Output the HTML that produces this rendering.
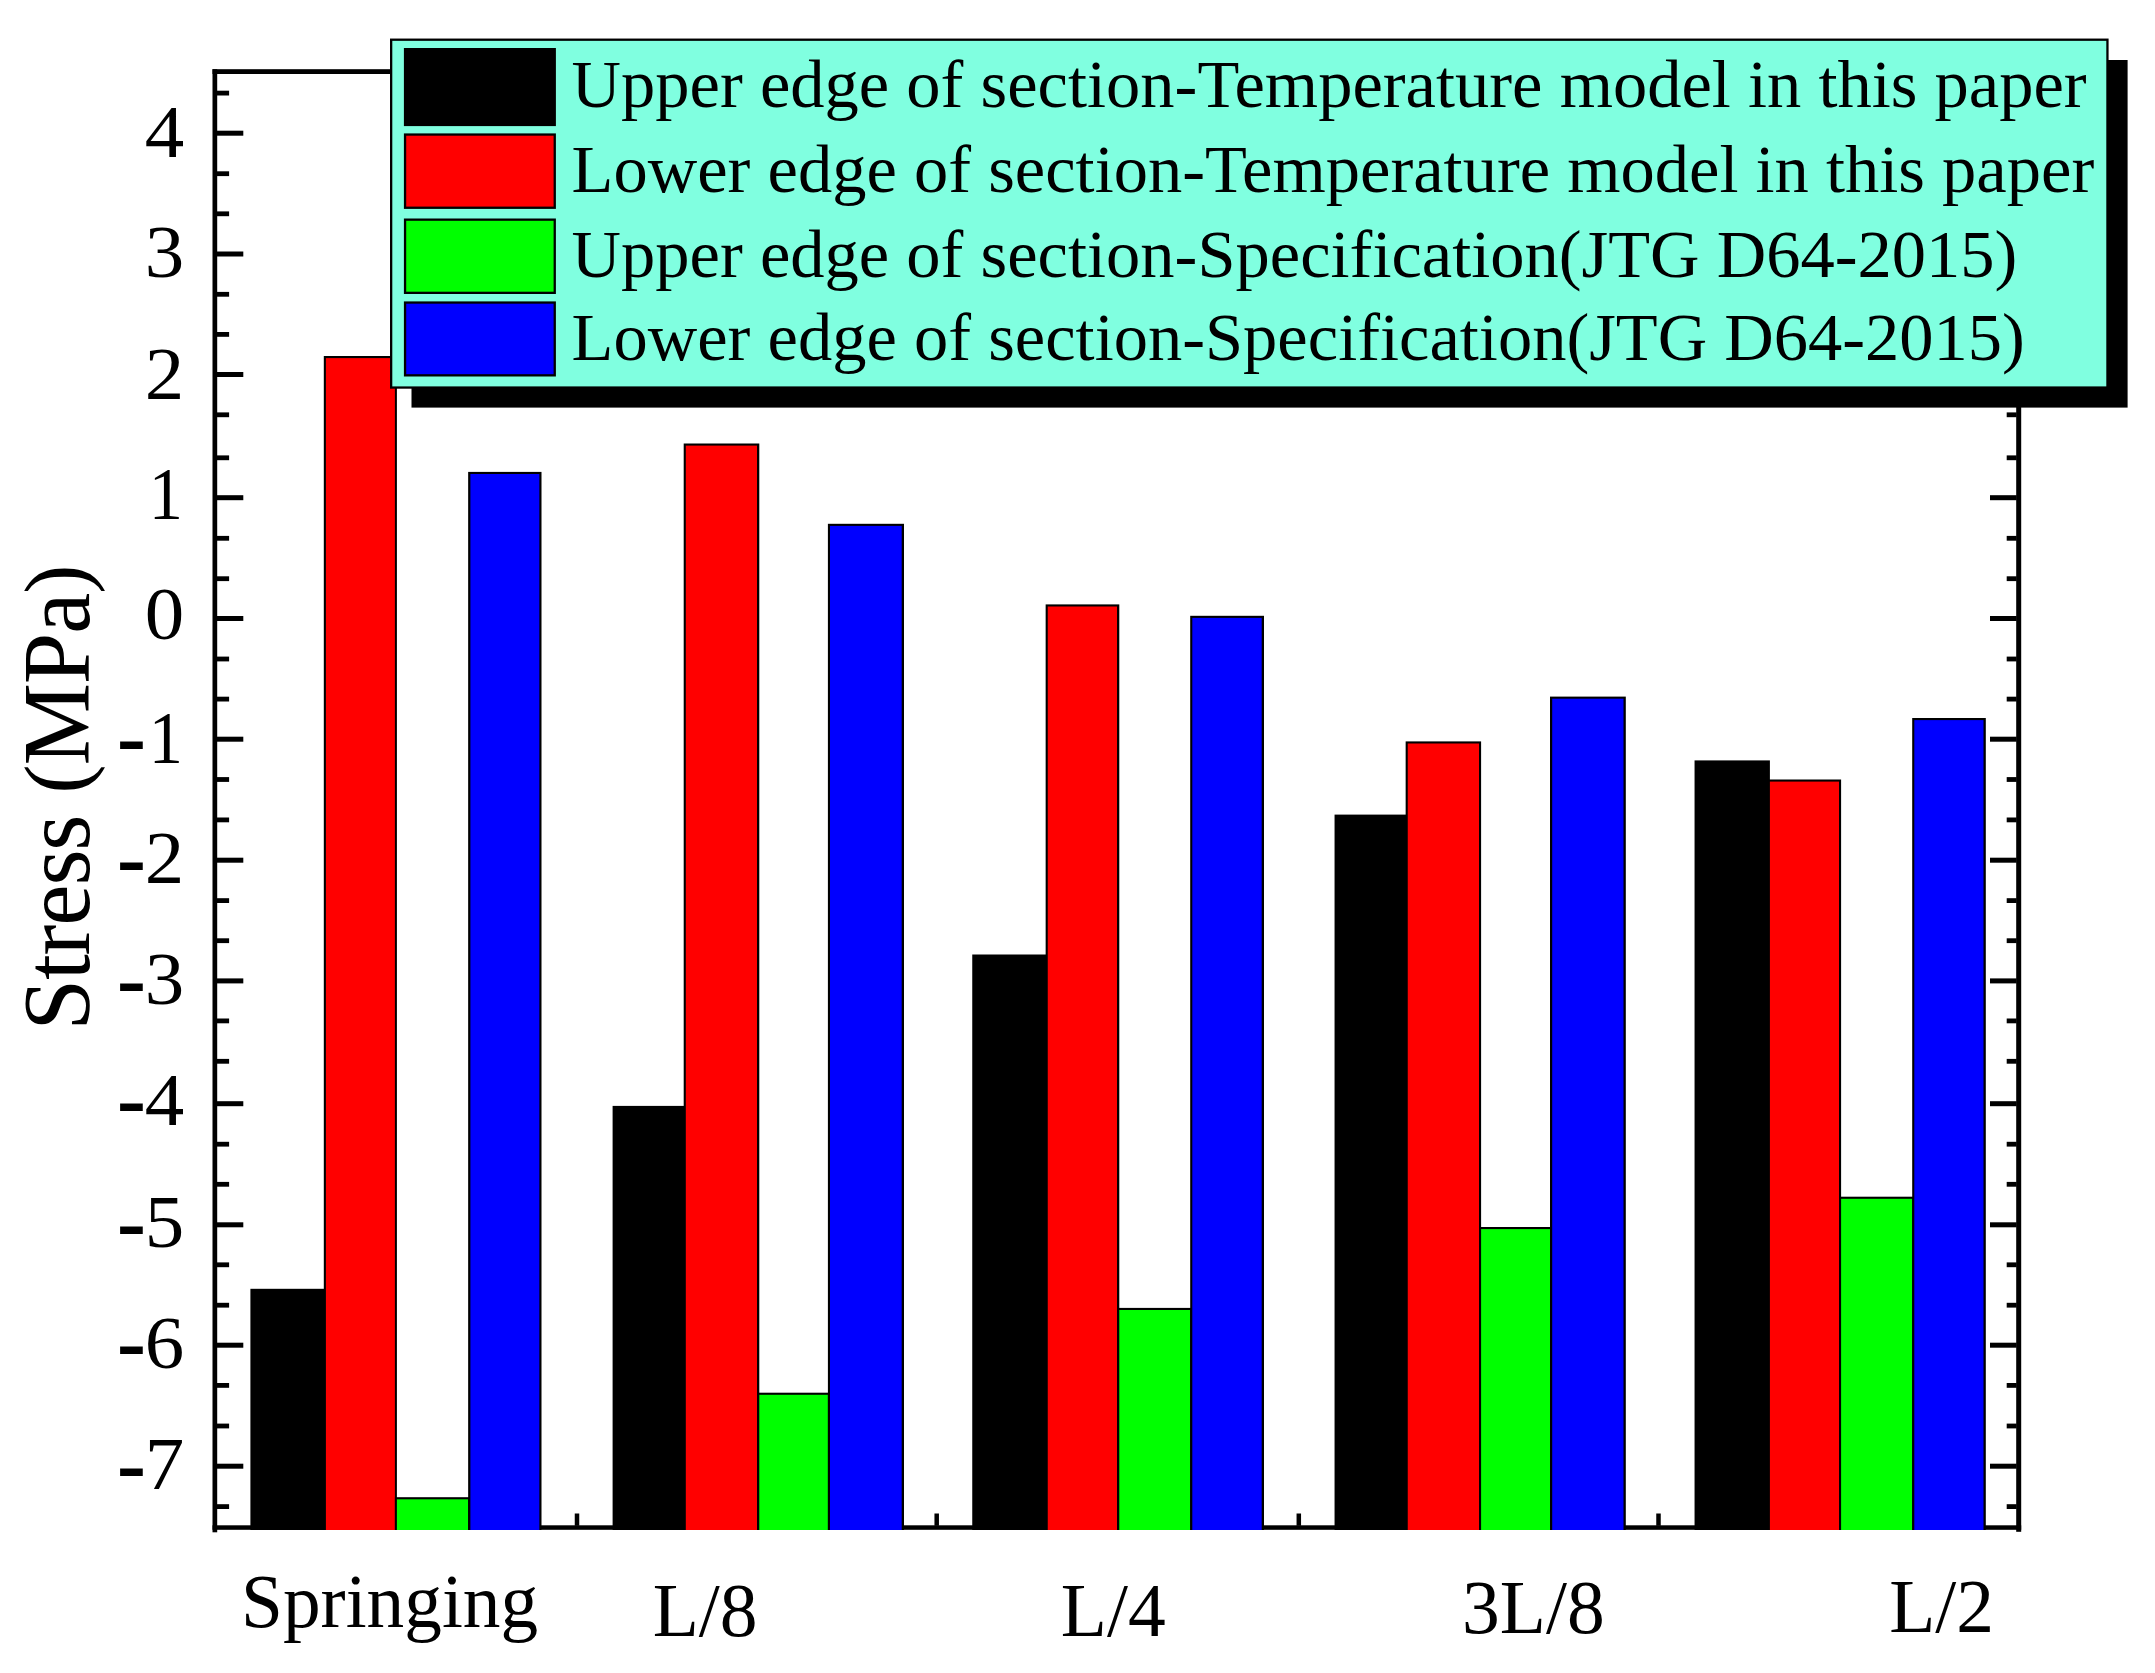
<!DOCTYPE html>
<html lang="en"><head><meta charset="utf-8"><title>Stress chart</title>
<style>html,body{margin:0;padding:0;background:#fff;}body{width:2155px;height:1673px;overflow:hidden;}svg{display:block;}text{font-family:"Liberation Serif","Times New Roman",serif;fill:#000;}</style>
</head><body>
<svg width="2155" height="1673" viewBox="0 0 2155 1673">
<rect x="0" y="0" width="2155" height="1673" fill="#fff"/>
<rect x="212.50" y="69.20" width="4.70" height="1463.10" fill="#000"/>
<rect x="2016.20" y="69.20" width="5.00" height="1462.60" fill="#000"/>
<rect x="212.50" y="69.20" width="1808.70" height="4.80" fill="#000"/>
<rect x="212.50" y="1525.30" width="1808.70" height="4.50" fill="#000"/>
<rect x="216.70" y="130.70" width="26.60" height="5.00" fill="#000"/>
<rect x="1990.00" y="130.70" width="26.70" height="5.00" fill="#000"/>
<rect x="216.70" y="251.50" width="26.60" height="5.00" fill="#000"/>
<rect x="1990.00" y="251.50" width="26.70" height="5.00" fill="#000"/>
<rect x="216.70" y="372.00" width="26.60" height="5.00" fill="#000"/>
<rect x="1990.00" y="372.00" width="26.70" height="5.00" fill="#000"/>
<rect x="216.70" y="495.20" width="26.60" height="5.00" fill="#000"/>
<rect x="1990.00" y="495.20" width="26.70" height="5.00" fill="#000"/>
<rect x="216.70" y="616.00" width="26.60" height="5.00" fill="#000"/>
<rect x="1990.00" y="616.00" width="26.70" height="5.00" fill="#000"/>
<rect x="216.70" y="736.70" width="26.60" height="5.00" fill="#000"/>
<rect x="1990.00" y="736.70" width="26.70" height="5.00" fill="#000"/>
<rect x="216.70" y="857.70" width="26.60" height="5.00" fill="#000"/>
<rect x="1990.00" y="857.70" width="26.70" height="5.00" fill="#000"/>
<rect x="216.70" y="978.40" width="26.60" height="5.00" fill="#000"/>
<rect x="1990.00" y="978.40" width="26.70" height="5.00" fill="#000"/>
<rect x="216.70" y="1101.20" width="26.60" height="5.00" fill="#000"/>
<rect x="1990.00" y="1101.20" width="26.70" height="5.00" fill="#000"/>
<rect x="216.70" y="1222.30" width="26.60" height="5.00" fill="#000"/>
<rect x="1990.00" y="1222.30" width="26.70" height="5.00" fill="#000"/>
<rect x="216.70" y="1342.70" width="26.60" height="5.00" fill="#000"/>
<rect x="1990.00" y="1342.70" width="26.70" height="5.00" fill="#000"/>
<rect x="216.70" y="1463.70" width="26.60" height="5.00" fill="#000"/>
<rect x="1990.00" y="1463.70" width="26.70" height="5.00" fill="#000"/>
<rect x="216.70" y="90.70" width="12.40" height="4.80" fill="#000"/>
<rect x="2006.70" y="90.70" width="10.00" height="4.80" fill="#000"/>
<rect x="216.70" y="171.30" width="12.40" height="4.80" fill="#000"/>
<rect x="2006.70" y="171.30" width="10.00" height="4.80" fill="#000"/>
<rect x="216.70" y="211.40" width="12.40" height="4.80" fill="#000"/>
<rect x="2006.70" y="211.40" width="10.00" height="4.80" fill="#000"/>
<rect x="216.70" y="291.90" width="12.40" height="4.80" fill="#000"/>
<rect x="2006.70" y="291.90" width="10.00" height="4.80" fill="#000"/>
<rect x="216.70" y="332.00" width="12.40" height="4.80" fill="#000"/>
<rect x="2006.70" y="332.00" width="10.00" height="4.80" fill="#000"/>
<rect x="216.70" y="412.40" width="12.40" height="4.80" fill="#000"/>
<rect x="2006.70" y="412.40" width="10.00" height="4.80" fill="#000"/>
<rect x="216.70" y="455.40" width="12.40" height="4.80" fill="#000"/>
<rect x="2006.70" y="455.40" width="10.00" height="4.80" fill="#000"/>
<rect x="216.70" y="535.90" width="12.40" height="4.80" fill="#000"/>
<rect x="2006.70" y="535.90" width="10.00" height="4.80" fill="#000"/>
<rect x="216.70" y="576.30" width="12.40" height="4.80" fill="#000"/>
<rect x="2006.70" y="576.30" width="10.00" height="4.80" fill="#000"/>
<rect x="216.70" y="656.60" width="12.40" height="4.80" fill="#000"/>
<rect x="2006.70" y="656.60" width="10.00" height="4.80" fill="#000"/>
<rect x="216.70" y="696.70" width="12.40" height="4.80" fill="#000"/>
<rect x="2006.70" y="696.70" width="10.00" height="4.80" fill="#000"/>
<rect x="216.70" y="777.10" width="12.40" height="4.80" fill="#000"/>
<rect x="2006.70" y="777.10" width="10.00" height="4.80" fill="#000"/>
<rect x="216.70" y="817.50" width="12.40" height="4.80" fill="#000"/>
<rect x="2006.70" y="817.50" width="10.00" height="4.80" fill="#000"/>
<rect x="216.70" y="898.20" width="12.40" height="4.80" fill="#000"/>
<rect x="2006.70" y="898.20" width="10.00" height="4.80" fill="#000"/>
<rect x="216.70" y="938.30" width="12.40" height="4.80" fill="#000"/>
<rect x="2006.70" y="938.30" width="10.00" height="4.80" fill="#000"/>
<rect x="216.70" y="1018.50" width="12.40" height="4.80" fill="#000"/>
<rect x="2006.70" y="1018.50" width="10.00" height="4.80" fill="#000"/>
<rect x="216.70" y="1058.90" width="12.40" height="4.80" fill="#000"/>
<rect x="2006.70" y="1058.90" width="10.00" height="4.80" fill="#000"/>
<rect x="216.70" y="1141.80" width="12.40" height="4.80" fill="#000"/>
<rect x="2006.70" y="1141.80" width="10.00" height="4.80" fill="#000"/>
<rect x="216.70" y="1181.90" width="12.40" height="4.80" fill="#000"/>
<rect x="2006.70" y="1181.90" width="10.00" height="4.80" fill="#000"/>
<rect x="216.70" y="1262.40" width="12.40" height="4.80" fill="#000"/>
<rect x="2006.70" y="1262.40" width="10.00" height="4.80" fill="#000"/>
<rect x="216.70" y="1302.80" width="12.40" height="4.80" fill="#000"/>
<rect x="2006.70" y="1302.80" width="10.00" height="4.80" fill="#000"/>
<rect x="216.70" y="1383.00" width="12.40" height="4.80" fill="#000"/>
<rect x="2006.70" y="1383.00" width="10.00" height="4.80" fill="#000"/>
<rect x="216.70" y="1423.60" width="12.40" height="4.80" fill="#000"/>
<rect x="2006.70" y="1423.60" width="10.00" height="4.80" fill="#000"/>
<rect x="216.70" y="1504.20" width="12.40" height="4.80" fill="#000"/>
<rect x="2006.70" y="1504.20" width="10.00" height="4.80" fill="#000"/>
<rect x="574.75" y="1513.50" width="4.50" height="12.30" fill="#000"/>
<rect x="574.75" y="73.50" width="4.50" height="12.50" fill="#000"/>
<rect x="934.45" y="1513.50" width="4.50" height="12.30" fill="#000"/>
<rect x="934.45" y="73.50" width="4.50" height="12.50" fill="#000"/>
<rect x="1296.55" y="1513.50" width="4.50" height="12.30" fill="#000"/>
<rect x="1296.55" y="73.50" width="4.50" height="12.50" fill="#000"/>
<rect x="1656.25" y="1513.50" width="4.50" height="12.30" fill="#000"/>
<rect x="1656.25" y="73.50" width="4.50" height="12.50" fill="#000"/>
<rect x="250.40" y="1288.80" width="75.50" height="241.20" fill="#000000"/>
<rect x="323.80" y="356.00" width="73.10" height="1174.00" fill="#000"/>
<rect x="325.90" y="358.10" width="69.00" height="1171.90" fill="#ff0000"/>
<rect x="394.90" y="1497.20" width="75.50" height="32.80" fill="#000"/>
<rect x="396.90" y="1499.30" width="71.25" height="30.70" fill="#00ff00"/>
<rect x="468.15" y="471.90" width="73.35" height="1058.10" fill="#000"/>
<rect x="470.40" y="474.00" width="68.95" height="1056.00" fill="#0000ff"/>
<rect x="612.60" y="1105.90" width="73.20" height="424.10" fill="#000000"/>
<rect x="683.70" y="443.50" width="75.60" height="1086.50" fill="#000"/>
<rect x="685.80" y="445.60" width="71.20" height="1084.40" fill="#ff0000"/>
<rect x="757.00" y="1392.70" width="73.00" height="137.30" fill="#000"/>
<rect x="759.30" y="1394.80" width="68.60" height="135.20" fill="#00ff00"/>
<rect x="827.90" y="523.80" width="76.10" height="1006.20" fill="#000"/>
<rect x="830.00" y="525.90" width="71.70" height="1004.10" fill="#0000ff"/>
<rect x="972.25" y="954.50" width="75.50" height="575.50" fill="#000000"/>
<rect x="1045.65" y="604.40" width="73.65" height="925.60" fill="#000"/>
<rect x="1047.75" y="606.50" width="69.25" height="923.50" fill="#ff0000"/>
<rect x="1117.00" y="1307.90" width="75.30" height="222.10" fill="#000"/>
<rect x="1119.30" y="1310.00" width="70.90" height="220.00" fill="#00ff00"/>
<rect x="1190.20" y="615.80" width="73.80" height="914.20" fill="#000"/>
<rect x="1192.30" y="617.90" width="69.40" height="912.10" fill="#0000ff"/>
<rect x="1334.55" y="814.60" width="73.20" height="715.40" fill="#000000"/>
<rect x="1405.65" y="741.40" width="75.45" height="788.60" fill="#000"/>
<rect x="1407.75" y="743.50" width="71.25" height="786.50" fill="#ff0000"/>
<rect x="1479.00" y="1227.00" width="73.20" height="303.00" fill="#000"/>
<rect x="1481.10" y="1229.10" width="68.90" height="300.90" fill="#00ff00"/>
<rect x="1550.00" y="696.60" width="75.80" height="833.40" fill="#000"/>
<rect x="1552.20" y="698.70" width="71.30" height="831.30" fill="#0000ff"/>
<rect x="1694.55" y="760.40" width="75.35" height="769.60" fill="#000000"/>
<rect x="1767.80" y="779.50" width="73.30" height="750.50" fill="#000"/>
<rect x="1769.90" y="781.60" width="69.10" height="748.40" fill="#ff0000"/>
<rect x="1839.00" y="1196.70" width="75.30" height="333.30" fill="#000"/>
<rect x="1841.10" y="1198.80" width="71.10" height="331.20" fill="#00ff00"/>
<rect x="1912.20" y="718.00" width="73.60" height="812.00" fill="#000"/>
<rect x="1914.30" y="720.10" width="69.20" height="809.90" fill="#0000ff"/>
<rect x="411.50" y="60.00" width="1716.10" height="347.60" fill="#000"/>
<rect x="391.15" y="39.70" width="1716.30" height="347.85" fill="#80ffe0" stroke="#000" stroke-width="2.30"/>
<rect x="405.05" y="49.15" width="149.70" height="75.80" fill="#000000" stroke="#000" stroke-width="2.30"/>
<rect x="405.05" y="134.55" width="149.70" height="73.20" fill="#ff0000" stroke="#000" stroke-width="2.30"/>
<rect x="405.05" y="219.65" width="149.70" height="73.20" fill="#00ff00" stroke="#000" stroke-width="2.30"/>
<rect x="405.05" y="302.55" width="149.70" height="72.80" fill="#0000ff" stroke="#000" stroke-width="2.30"/>
<text transform="translate(571.6,107.0) scale(1.0226,1)" font-size="67.00">Upper edge of section-Temperature model in this paper</text>
<text transform="translate(571.6,192.0) scale(1.0226,1)" font-size="67.00">Lower edge of section-Temperature model in this paper</text>
<text transform="translate(571.6,277.0) scale(1.0226,1)" font-size="67.00">Upper edge of section-Specification(JTG D64-2015)</text>
<text transform="translate(571.6,360.0) scale(1.0226,1)" font-size="67.00">Lower edge of section-Specification(JTG D64-2015)</text>
<text transform="translate(0,156.7) scale(1.0750,1)" font-size="73.50"><tspan x="171.35" text-anchor="end">4</tspan></text>
<text transform="translate(0,277.0) scale(1.0750,1)" font-size="73.50"><tspan x="171.35" text-anchor="end">3</tspan></text>
<text transform="translate(0,398.5) scale(1.0750,1)" font-size="73.50"><tspan x="171.35" text-anchor="end">2</tspan></text>
<text transform="translate(0,518.9) scale(1.0750,1)" font-size="73.50"><tspan x="154.33" text-anchor="middle" textLength="31.79" lengthAdjust="spacingAndGlyphs">1</tspan></text>
<text transform="translate(0,639.0) scale(1.0750,1)" font-size="73.50"><tspan x="171.35" text-anchor="end">0</tspan></text>
<text transform="translate(0,762.5) scale(1.0750,1)" font-size="73.50"><tspan x="134.51" dy="0.5" text-anchor="end" stroke="#000" stroke-width="2">-</tspan><tspan dy="-0.5" x="154.33" text-anchor="middle" textLength="31.79" lengthAdjust="spacingAndGlyphs">1</tspan></text>
<text transform="translate(0,883.3) scale(1.0750,1)" font-size="73.50"><tspan x="134.51" dy="0.5" text-anchor="end" stroke="#000" stroke-width="2">-</tspan><tspan dy="-0.5" x="171.35" text-anchor="end">2</tspan></text>
<text transform="translate(0,1004.0) scale(1.0750,1)" font-size="73.50"><tspan x="134.51" dy="0.5" text-anchor="end" stroke="#000" stroke-width="2">-</tspan><tspan dy="-0.5" x="171.35" text-anchor="end">3</tspan></text>
<text transform="translate(0,1124.6) scale(1.0750,1)" font-size="73.50"><tspan x="134.51" dy="0.5" text-anchor="end" stroke="#000" stroke-width="2">-</tspan><tspan dy="-0.5" x="171.35" text-anchor="end">4</tspan></text>
<text transform="translate(0,1247.0) scale(1.0750,1)" font-size="73.50"><tspan x="134.51" dy="0.5" text-anchor="end" stroke="#000" stroke-width="2">-</tspan><tspan dy="-0.5" x="171.35" text-anchor="end">5</tspan></text>
<text transform="translate(0,1367.7) scale(1.0750,1)" font-size="73.50"><tspan x="134.51" dy="0.5" text-anchor="end" stroke="#000" stroke-width="2">-</tspan><tspan dy="-0.5" x="171.35" text-anchor="end">6</tspan></text>
<text transform="translate(0,1489.3) scale(1.0750,1)" font-size="73.50"><tspan x="134.51" dy="0.5" text-anchor="end" stroke="#000" stroke-width="2">-</tspan><tspan dy="-0.5" x="171.35" text-anchor="end">7</tspan></text>
<text x="389.6" y="1626.8" font-size="75.30" text-anchor="middle">Springing</text>
<text x="705.1" y="1636.4" font-size="75.50" text-anchor="middle">L/8</text>
<text x="1113.3" y="1636.4" font-size="75.50" text-anchor="middle">L/4</text>
<text x="1533.4" y="1633.4" font-size="75.50" text-anchor="middle">3L/8</text>
<text x="1941.6" y="1631.6" font-size="75.50" text-anchor="middle">L/2</text>
<text transform="translate(88.5,1030.5) rotate(-90) scale(0.9750,1)" font-size="95.00" letter-spacing="-1.10">Stress <tspan font-size="89.50" dy="-2.20">(</tspan><tspan dy="2.20">MPa</tspan><tspan font-size="89.50" dy="-2.20">)</tspan></text>
</svg>
</body></html>
